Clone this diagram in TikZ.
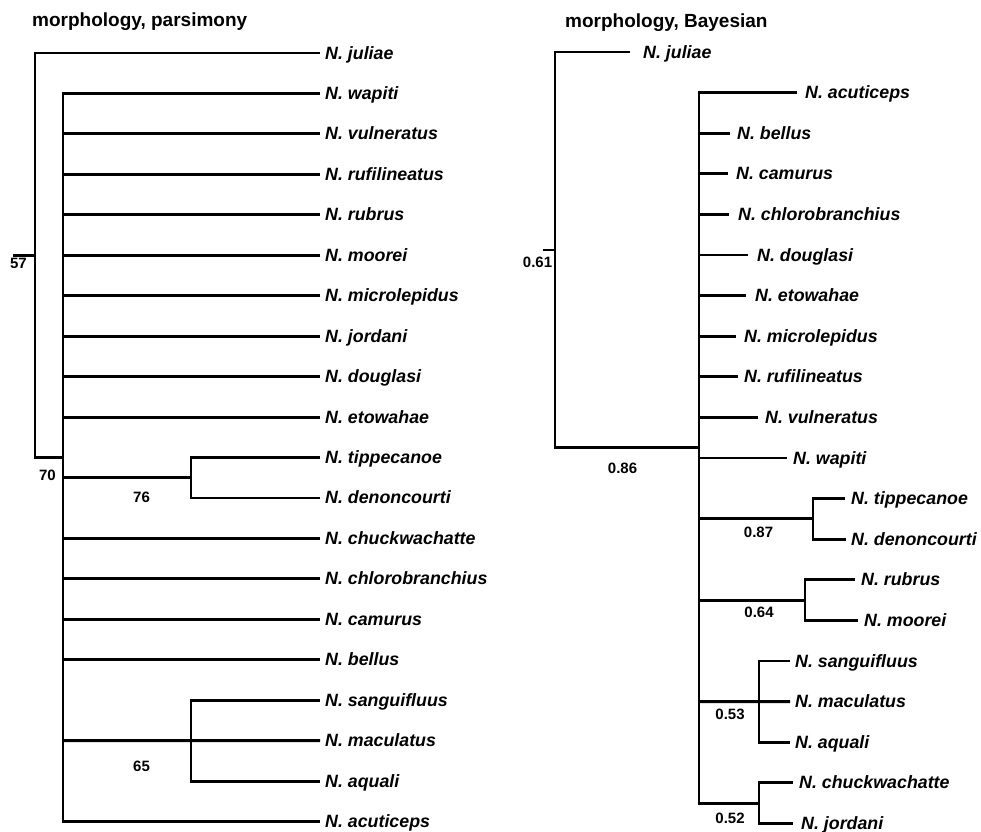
\documentclass[tikz,border=0pt]{standalone}
\usepackage{fontspec}
\setmainfont{Liberation Sans}
\begin{document}
\begin{tikzpicture}[x=1pt,y=-1pt,
  br/.style={line width=2.9pt, line join=miter, line cap=butt},
  leaf/.style={anchor=base west, inner sep=0pt, font=\fontsize{17.8}{20}\selectfont\bfseries\itshape},
  supp/.style={anchor=center, inner sep=0pt, font=\fontsize{15}{18}\selectfont\bfseries},
  ttl/.style={anchor=base west, inner sep=0pt, font=\fontsize{19}{22}\selectfont\bfseries}]
\useasboundingbox (0,0) rectangle (981,831);

% ---------------- titles
\node[ttl] (tL) at (32,26) {morphology, parsimony};
\node[ttl] (tR) at (565,27) {morphology, Bayesian};

% ---------------- left tree (parsimony)
\foreach \n [count=\i from 0] in {juliae,wapiti,vulneratus,rufilineatus,rubrus,moorei,microlepidus,jordani,douglasi,etowahae,tippecanoe,denoncourti,chuckwachatte,chlorobranchius,camurus,bellus,sanguifluus,maculatus,aquali,acuticeps}{
  \coordinate (Lt-\n) at (320,53+40.45*\i);
  \node[leaf] (L-\n) at (325,59+40.45*\i) {N. \n};
}
\coordinate (Lroot0) at (13,255.25);
\coordinate (LR) at (35,255.25);
\coordinate (LA) at (63,457.5);
\coordinate (LB) at (191,477.7);
\coordinate (LC) at (191,740.65);

\draw[br] (Lroot0) -- (LR);
\draw[br] (Lt-juliae) -| (LR) |- (LA);
\draw[br] (Lt-wapiti) -| (LA) |- (Lt-acuticeps);
\foreach \n in {vulneratus,rufilineatus,rubrus,moorei,microlepidus,jordani,douglasi,etowahae,chuckwachatte,chlorobranchius,camurus,bellus}{
  \draw[br] (LA |- Lt-\n) -- (Lt-\n);
}
\draw[br] (LA |- LB) -- (LB);
\draw[br] (Lt-tippecanoe) -| (LB) |- (Lt-denoncourti);
\draw[br] (LA |- LC) -- (Lt-maculatus);
\draw[br] (Lt-sanguifluus) -| (LC) |- (Lt-aquali);

\node[supp] (s57) at (18.5,263) {57};
\node[supp] (s70) at (47.5,475) {70};
\node[supp] (s76) at (141.5,497) {76};
\node[supp] (s65) at (141.5,766) {65};

% ---------------- right tree (Bayesian)
\foreach \n/\tx/\lx [count=\i from 0] in {juliae/630/643,acuticeps/797/805,bellus/730/737,camurus/728/736,chlorobranchius/729/738,douglasi/748/757,etowahae/746/755,microlepidus/736/744,rufilineatus/738/744,vulneratus/758/765,wapiti/787/793,tippecanoe/845/851,denoncourti/846/851,rubrus/855/861,moorei/858/864,sanguifluus/790/795,maculatus/790/795,aquali/790/795,chuckwachatte/793/799,jordani/793/801}{
  \coordinate (Rt-\n) at (\tx,52+40.6*\i);
  \node[leaf] (R-\n) at (\lx,58+40.6*\i) {N. \n};
}
\coordinate (Rroot0) at (543,250);
\coordinate (RR) at (555,250);
\coordinate (RA) at (699,447.9);
\coordinate (RB) at (813,518.9);
\coordinate (RC) at (805,600.1);
\coordinate (RD) at (759,701.6);
\coordinate (RE) at (759,803.1);

\draw[br] (Rroot0) -- (RR);
\draw[br] (Rt-juliae) -| (RR) |- (RA);
\draw[br] (Rt-acuticeps) -| (RA) |- (RE);
\foreach \n in {bellus,camurus,chlorobranchius,douglasi,etowahae,microlepidus,rufilineatus,vulneratus,wapiti}{
  \draw[br] (RA |- Rt-\n) -- (Rt-\n);
}
\draw[br] (RA |- RB) -- (RB);
\draw[br] (Rt-tippecanoe) -| (RB) |- (Rt-denoncourti);
\draw[br] (RA |- RC) -- (RC);
\draw[br] (Rt-rubrus) -| (RC) |- (Rt-moorei);
\draw[br] (RA |- RD) -- (Rt-maculatus);
\draw[br] (Rt-sanguifluus) -| (RD) |- (Rt-aquali);
\draw[br] (Rt-chuckwachatte) -| (RE) |- (Rt-jordani);

\node[supp] (s061) at (537.5,262) {0.61};
\node[supp] (s086) at (622.5,468) {0.86};
\node[supp] (s087) at (758.5,532) {0.87};
\node[supp] (s064) at (759,612) {0.64};
\node[supp] (s053) at (730,714.5) {0.53};
\node[supp] (s052) at (730,818) {0.52};
\end{tikzpicture}
\end{document}
